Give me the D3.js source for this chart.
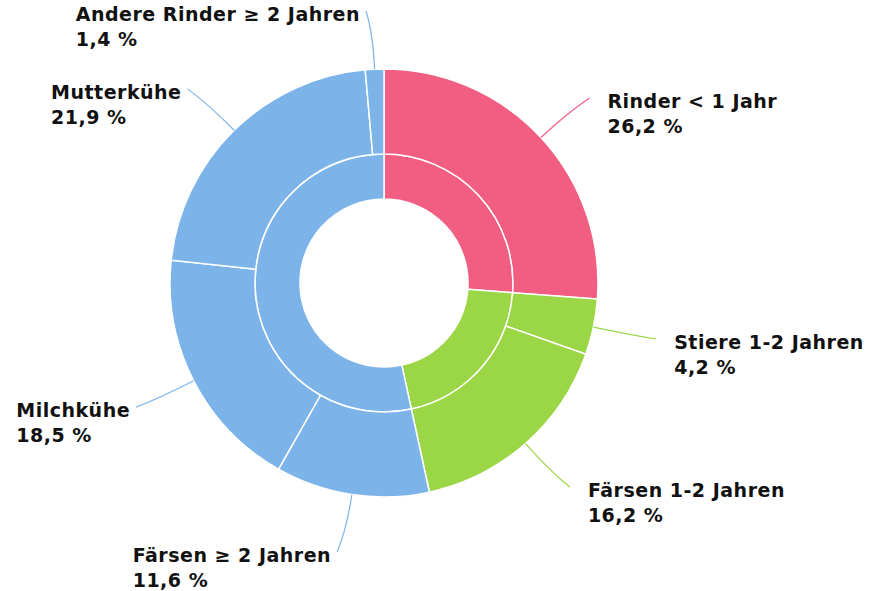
<!DOCTYPE html>
<html>
<head>
<meta charset="utf-8">
<script src="https://cdn.jsdelivr.net/npm/d3@7"></script>
<style>
  body { margin: 0; background: #fff; }
  .label { font-family: "DejaVu Sans", sans-serif; font-weight: bold; font-size: 19px; letter-spacing: 0.5px; fill: #111; }
</style>
</head>
<body>
<div id="chart"></div>
<script>
// Inner ring: age groups
const groups = ["Rinder < 1 Jahr", "Rinder 1-2 Jahren", "Rinder ≥ 2 Jahren"];
const groupValues = [26.2, 20.4, 53.4];
const groupColors = ["#f25d82", "#9bd646", "#7cb4ea"];

// Outer ring: categories (clockwise from top)
const categories = ["Rinder < 1 Jahr", "Stiere 1-2 Jahren", "Färsen 1-2 Jahren", "Färsen ≥ 2 Jahren",
                    "Milchkühe", "Mutterkühe", "Andere Rinder ≥ 2 Jahren"];
const categoryValues = [26.2, 4.2, 16.2, 11.6, 18.5, 21.9, 1.4];
const categoryGroup = [0, 1, 1, 2, 2, 2, 2];

function createDonut() {
    const width = 870, height = 591;
    const cx = 384, cy = 283;
    const rHole = 84, rMid = 129, rOuter = 214;

    const svg = d3.select("#chart").append("svg")
        .attr("width", width)
        .attr("height", height);

    const g = svg.append("g")
        .attr("transform", `translate(${cx},${cy})`);

    const pie = d3.pie().sort(null).value(d => d);

    const innerArc = d3.arc().innerRadius(rHole).outerRadius(rMid);
    const outerArc = d3.arc().innerRadius(rMid).outerRadius(rOuter);

    const innerData = pie(groupValues);
    const outerData = pie(categoryValues);

    g.selectAll(".inner")
        .data(innerData)
        .enter().append("path")
        .attr("class", "inner")
        .attr("d", innerArc)
        .style("fill", (d, i) => groupColors[i])
        .style("stroke", "#fff")
        .style("stroke-width", 1.5);

    g.selectAll(".outer")
        .data(outerData)
        .enter().append("path")
        .attr("class", "outer")
        .attr("d", outerArc)
        .style("fill", (d, i) => groupColors[categoryGroup[i]])
        .style("stroke", "#fff")
        .style("stroke-width", 1.5);

    // point at radius r along angle a (0 = top, clockwise)
    const radial = (a, r) => [r * Math.sin(a), -r * Math.cos(a)];
    const fmt = v => v.toFixed(1).replace(".", ",") + " %";

    outerData.forEach((d, i) => {
        const a = (d.startAngle + d.endAngle) / 2;
        const side = Math.sin(a) >= 0 ? 1 : -1;
        const p0 = radial(a, rOuter);
        const c = radial(a, rOuter + 36);
        const e = radial(a, rOuter + 58);
        e[0] += side * 6;

        g.append("path")
            .attr("d", `M${p0[0]},${p0[1]}Q${c[0]},${c[1]} ${e[0]},${e[1]}`)
            .style("fill", "none")
            .style("stroke", groupColors[categoryGroup[i]])
            .style("stroke-width", 1.2);

        const label = g.append("text")
            .attr("class", "label")
            .attr("y", e[1] + 10);
        label.append("tspan").attr("x", 0).text(categories[i]);
        label.append("tspan").attr("x", 0).attr("dy", 25).text(fmt(categoryValues[i]));

        const w = d3.max(label.selectAll("tspan").nodes(), n => n.getComputedTextLength());
        const x = side > 0 ? e[0] + 18 : e[0] - 6 - w;
        label.selectAll("tspan").attr("x", x);
    });
}

createDonut();
</script>
</body>
</html>
